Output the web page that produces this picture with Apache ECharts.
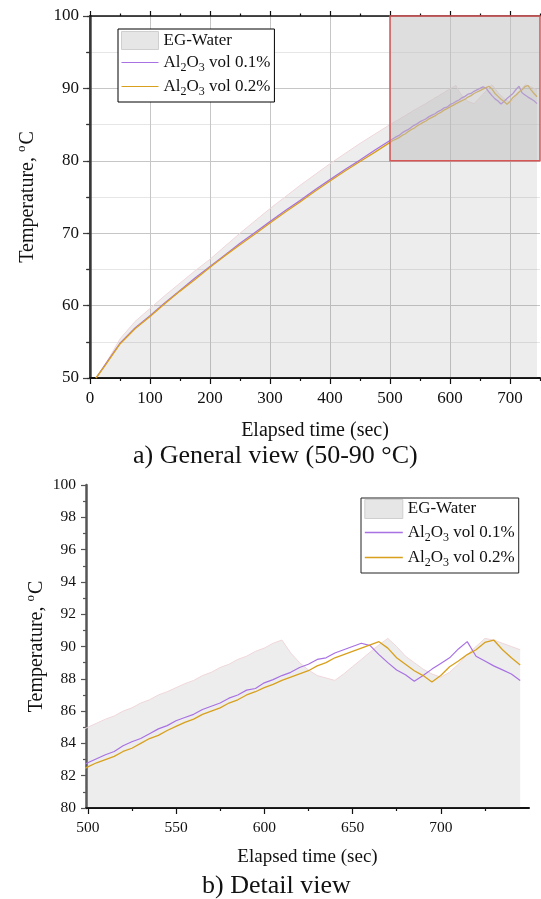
<!DOCTYPE html>
<html>
<head>
<meta charset="utf-8">
<title>Temperature vs elapsed time</title>
<script src="https://cdn.jsdelivr.net/npm/echarts@6/dist/echarts.min.js"></script>
<style>
  html, body { margin: 0; padding: 0; background: #fff; }
  #chart { width: 541px; height: 899px; }
</style>
</head>
<body>
<div id="chart"></div>
<script>
// elapsed time (sec) shared by all three curves
var timeSec = [10, 25, 50, 75, 100, 125, 150, 175, 200, 225, 250, 275, 300, 325, 350, 375, 400, 425, 450, 475, 500,
  505, 510, 515, 520, 525, 530, 535, 540, 545, 550, 555, 560, 565, 570, 575, 580, 585, 590, 595, 600,
  605, 610, 615, 620, 625, 630, 635, 640, 645, 650, 655, 660, 665, 670, 675, 680, 685, 690, 695, 700,
  705, 710, 715, 720, 725, 730, 735, 740, 745];

// temperatures, °C
var egWater = [50.0, 51.8, 55.4, 57.8, 59.6, 61.4, 63.1, 64.8, 66.4, 68.2, 70.0, 71.7, 73.4, 75.0, 76.6, 78.1, 79.6, 81.0, 82.4, 83.7, 85.0,
  85.25, 85.5, 85.7, 86.0, 86.2, 86.5, 86.7, 87.0, 87.2, 87.45, 87.7, 87.9, 88.2, 88.4, 88.7, 88.9, 89.2, 89.4, 89.7, 89.9,
  90.2, 90.4, 89.6, 89.0, 88.55, 88.2, 88.05, 87.9, 88.3, 88.75, 89.2, 89.65, 90.1, 90.5, 90.0, 89.4, 89.0, 88.6, 88.3, 88.1,
  88.4, 88.9, 89.5, 90.0, 90.5, 90.4, 90.2, 90.0, 89.8];
var al2o3Vol01 = [50.0, 51.8, 54.8, 56.9, 58.6, 60.4, 62.1, 63.8, 65.4, 67.0, 68.6, 70.1, 71.6, 73.1, 74.5, 76.0, 77.4, 78.8, 80.1, 81.5, 82.8,
  83.05, 83.3, 83.5, 83.85, 84.1, 84.3, 84.6, 84.9, 85.1, 85.4, 85.6, 85.8, 86.1, 86.3, 86.5, 86.8, 87.0, 87.3, 87.4, 87.75,
  87.95, 88.2, 88.4, 88.7, 88.9, 89.2, 89.3, 89.6, 89.8, 90.0, 90.2, 90.05, 89.5, 89.0, 88.55, 88.25, 87.85, 88.2, 88.6, 88.95,
  89.3, 89.85, 90.3, 89.4, 89.1, 88.8, 88.55, 88.3, 87.9];
var al2o3Vol02 = [50.0, 51.7, 54.7, 56.8, 58.5, 60.3, 62.0, 63.6, 65.3, 66.9, 68.4, 69.9, 71.4, 72.9, 74.3, 75.8, 77.2, 78.6, 79.9, 81.2, 82.55,
  82.8, 83.0, 83.2, 83.5, 83.7, 84.0, 84.3, 84.5, 84.8, 85.05, 85.3, 85.5, 85.8, 86.0, 86.2, 86.5, 86.7, 87.0, 87.2, 87.45,
  87.65, 87.9, 88.1, 88.3, 88.5, 88.8, 89.0, 89.3, 89.5, 89.7, 89.9, 90.1, 90.3, 89.9, 89.3, 88.9, 88.5, 88.2, 87.8, 88.2,
  88.75, 89.1, 89.5, 89.8, 90.25, 90.4, 89.8, 89.3, 88.85];

// tick positions
var topXMajor = [0, 100, 200, 300, 400, 500, 600, 700];
var topXMinor = [50, 150, 250, 350, 450, 550, 650, 750];
var detailXMajor = [500, 550, 600, 650, 700];
var detailXMinor = [525, 575, 625, 675, 725];

// zoomed window shown in the detail view
var detailBox = [[500, 80], [750, 100]];

var NAME_EG = 'EG-Water';
var NAME_01 = 'Al2O3 vol 0.1%';
var NAME_02 = 'Al2O3 vol 0.2%';

var FONT = 'Liberation Serif';
var INK = '#111';
var PURPLE = '#a871e4';
var ORANGE = '#d8a01c';

function pairs(values) {
  return timeSec.map(function (t, i) { return [t, values[i]]; });
}

var chart = echarts.init(document.getElementById('chart'), null, { renderer: 'canvas' });

var yNameRich = {
  n: { fontFamily: FONT, fontSize: 20, color: INK, lineHeight: 26, verticalAlign: 'middle' },
  p: { fontFamily: FONT, fontSize: 13, color: INK, lineHeight: 13, verticalAlign: 'top', padding: [0, 1, 13, 0] }
};
var yName = '{n|Temperature, }{p|o}{n|C}';

function legendFormatter(name) {
  if (name === NAME_EG) return '{n|EG-Water}';
  return '{n|Al}{s|2}{n|O}{s|3}{n| vol ' + name.split('vol ')[1] + '}';
}
var legendRich = {
  n: { fontFamily: FONT, fontSize: 17, color: INK, lineHeight: 21, verticalAlign: 'middle' },
  s: { fontFamily: FONT, fontSize: 12, color: INK, lineHeight: 11, verticalAlign: 'top', padding: [10, 0, 0, 0] }
};
function legendData(lineWidth) {
  return [
    { name: NAME_EG, icon: 'rect', itemStyle: { color: '#e6e6e6', borderColor: '#cfcfcf', borderWidth: 1 } },
    { name: NAME_01, itemStyle: { opacity: 0 }, lineStyle: { width: lineWidth } },
    { name: NAME_02, itemStyle: { opacity: 0 }, lineStyle: { width: lineWidth } }
  ];
}

var option = {
  backgroundColor: '#fff',
  animation: false,
  title: [
    { text: 'a) General view (50-90 °C)', left: 133, top: 443, padding: 0,
      textStyle: { fontFamily: FONT, fontSize: 26, fontWeight: 'normal', color: INK } },
    { text: 'b) Detail view', left: 202, top: 873, padding: 0,
      textStyle: { fontFamily: FONT, fontSize: 26, fontWeight: 'normal', color: INK } }
  ],
  legend: [
    { left: 118, top: 29, orient: 'vertical', itemWidth: 37, itemHeight: 18, itemGap: 2,
      padding: [2, 4, 4, 3], borderColor: '#000', borderWidth: 1, backgroundColor: '#fff',
      selectedMode: false, data: legendData(1), formatter: legendFormatter,
      textStyle: { rich: legendRich } },
    { left: 361, top: 498, orient: 'vertical', itemWidth: 38, itemHeight: 19, itemGap: 3,
      padding: [1, 4, 4, 3], borderColor: '#222', borderWidth: 1, backgroundColor: '#fff',
      selectedMode: false, data: legendData(1.6), formatter: legendFormatter,
      textStyle: { rich: legendRich } }
  ],
  grid: [
    { left: 90, right: 1, top: 16, bottom: 521 },
    { left: 86, right: 12, top: 485, bottom: 91 }
  ],
  xAxis: [
    // 0: general view, bottom, major ticks + labels
    { gridIndex: 0, type: 'value', position: 'bottom', min: 0, max: 750, interval: 100,
      name: 'Elapsed time (sec)', nameLocation: 'middle', nameGap: 43, nameMoveOverlap: false,
      nameTextStyle: { fontFamily: FONT, fontSize: 20, color: INK },
      axisLine: { lineStyle: { color: INK, width: 2 } },
      axisTick: { customValues: topXMajor, length: 6, lineStyle: { color: INK, width: 1.2 } },
      axisLabel: { customValues: topXMajor, margin: 12, fontFamily: FONT, fontSize: 17, color: INK },
      splitLine: { show: true, lineStyle: { color: '#c6c6c6', width: 1 } } },
    // 1: general view, bottom, minor ticks
    { gridIndex: 0, type: 'value', position: 'bottom', min: 0, max: 750,
      axisLine: { show: false },
      axisTick: { customValues: topXMinor, length: 3, lineStyle: { color: INK, width: 1.2 } },
      axisLabel: { show: false }, splitLine: { show: false } },
    // 2: general view, top frame
    { gridIndex: 0, type: 'value', position: 'top', min: 0, max: 750,
      axisLine: { lineStyle: { color: INK, width: 1.5 } },
      axisTick: { customValues: topXMajor, length: 5, lineStyle: { color: INK, width: 1.2 } },
      axisLabel: { show: false }, splitLine: { show: false } },
    // 3: general view, top minor ticks
    { gridIndex: 0, type: 'value', position: 'top', min: 0, max: 750,
      axisLine: { show: false },
      axisTick: { customValues: topXMinor, length: 2.5, lineStyle: { color: INK, width: 1.2 } },
      axisLabel: { show: false }, splitLine: { show: false } },
    // 4: detail view, major ticks + labels
    { gridIndex: 1, type: 'value', position: 'bottom', min: 499, max: 750,
      name: 'Elapsed time (sec)', nameLocation: 'middle', nameGap: 40, nameMoveOverlap: false,
      nameTextStyle: { fontFamily: FONT, fontSize: 19, color: INK },
      axisLine: { lineStyle: { color: INK, width: 2 } },
      axisTick: { customValues: detailXMajor, length: 6, lineStyle: { color: INK, width: 1.2 } },
      axisLabel: { customValues: detailXMajor, margin: 12, fontFamily: FONT, fontSize: 15.5, color: INK },
      splitLine: { show: false } },
    // 5: detail view, minor ticks
    { gridIndex: 1, type: 'value', position: 'bottom', min: 499, max: 750,
      axisLine: { show: false },
      axisTick: { customValues: detailXMinor, length: 3, lineStyle: { color: INK, width: 1.2 } },
      axisLabel: { show: false }, splitLine: { show: false } }
  ],
  yAxis: [
    // 0: general view, left
    { gridIndex: 0, type: 'value', position: 'left', min: 50, max: 100, interval: 10,
      name: yName, nameLocation: 'middle', nameGap: 49, nameMoveOverlap: false,
      nameTextStyle: { rich: yNameRich },
      axisLine: { show: true, lineStyle: { color: '#444', width: 2.5 } },
      axisTick: { show: true, length: 7, lineStyle: { color: '#444', width: 1.2 } },
      minorTick: { show: true, splitNumber: 2, length: 4, lineStyle: { color: '#444', width: 1.2 } },
      axisLabel: { margin: 11, fontFamily: FONT, fontSize: 17, color: INK },
      splitLine: { show: true, lineStyle: { color: '#c6c6c6', width: 1 } },
      minorSplitLine: { show: true, lineStyle: { color: '#e6e6e6', width: 1 } } },
    // 1: general view, right frame
    { gridIndex: 0, type: 'value', position: 'right', min: 50, max: 100, interval: 5,
      axisLine: { show: true, lineStyle: { color: '#333', width: 1.5 } },
      axisTick: { show: true, inside: true, length: 3, lineStyle: { color: '#333', width: 1.2 } },
      axisLabel: { show: false }, splitLine: { show: false } },
    // 2: detail view, left
    { gridIndex: 1, type: 'value', position: 'left', min: 80, max: 100, interval: 2,
      name: yName, nameLocation: 'middle', nameGap: 36, nameMoveOverlap: false,
      nameTextStyle: { rich: yNameRich },
      axisLine: { show: true, lineStyle: { color: '#555', width: 2.5 } },
      axisTick: { show: true, length: 5, lineStyle: { color: '#555', width: 1.2 } },
      minorTick: { show: true, splitNumber: 2, length: 3, lineStyle: { color: '#555', width: 1.2 } },
      axisLabel: { margin: 10, fontFamily: FONT, fontSize: 15.5, color: INK },
      splitLine: { show: false } }
  ],
  series: [
    { name: NAME_EG, type: 'line', xAxisIndex: 0, yAxisIndex: 0, data: pairs(egWater),
      symbol: 'none', z: 1,
      itemStyle: { color: '#e6e6e6' },
      lineStyle: { color: '#f0d6da', width: 1 },
      areaStyle: { color: 'rgba(128,128,128,0.2)', origin: 'start' },
      markArea: {
        silent: true, z: 5,
        itemStyle: { color: 'rgba(192,192,192,0.52)', borderColor: '#d65656', borderWidth: 1.5 },
        data: [[{ coord: detailBox[0] }, { coord: detailBox[1] }]]
      } },
    { name: NAME_01, type: 'line', xAxisIndex: 0, yAxisIndex: 0, data: pairs(al2o3Vol01),
      symbol: 'none', z: 2, itemStyle: { color: PURPLE }, lineStyle: { color: PURPLE, width: 1.3 } },
    { name: NAME_02, type: 'line', xAxisIndex: 0, yAxisIndex: 0, data: pairs(al2o3Vol02),
      symbol: 'none', z: 3, itemStyle: { color: ORANGE }, lineStyle: { color: ORANGE, width: 1.3 } },

    { name: NAME_EG, type: 'line', xAxisIndex: 4, yAxisIndex: 2, data: pairs(egWater),
      symbol: 'none', z: 1,
      itemStyle: { color: '#e6e6e6' },
      lineStyle: { color: '#f0d6da', width: 1 },
      areaStyle: { color: 'rgba(128,128,128,0.2)', origin: 'start' } },
    { name: NAME_01, type: 'line', xAxisIndex: 4, yAxisIndex: 2, data: pairs(al2o3Vol01),
      symbol: 'none', z: 2, itemStyle: { color: PURPLE }, lineStyle: { color: PURPLE, width: 1.2 } },
    { name: NAME_02, type: 'line', xAxisIndex: 4, yAxisIndex: 2, data: pairs(al2o3Vol02),
      symbol: 'none', z: 3, itemStyle: { color: ORANGE }, lineStyle: { color: ORANGE, width: 1.3 } }
  ]
};

chart.setOption(option);
</script>
</body>
</html>
